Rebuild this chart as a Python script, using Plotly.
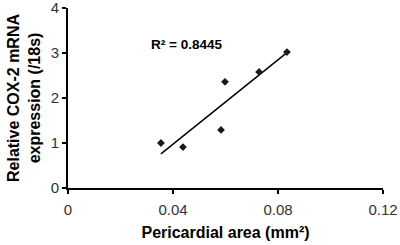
import numpy as np
import plotly.graph_objects as go

# Data
pericardial_area = [0.0354, 0.0438, 0.0583, 0.0598, 0.0728, 0.0834]
cox2_expression = [1.00, 0.91, 1.29, 2.36, 2.58, 3.02]
x_ticks = [0, 0.04, 0.08, 0.12]
x_tick_labels = ["0", "0.04", "0.08", "0.12"]
y_ticks = [0, 1, 2, 3, 4]
r2_label = "R² = 0.8445"

xs = np.array(pericardial_area)
ys = np.array(cox2_expression)
slope, intercept = np.polyfit(xs, ys, 1)
fit_x = [xs.min(), xs.max()]
fit_y = [slope * v + intercept for v in fit_x]

font = "Liberation Sans, Arial, sans-serif"

fig = go.Figure()
fig.add_trace(go.Scatter(x=fit_x, y=fit_y, mode="lines",
                         line=dict(color="black", width=1.5), showlegend=False))
fig.add_trace(go.Scatter(x=pericardial_area, y=cox2_expression, mode="markers",
                         marker=dict(symbol="diamond", size=6, color="#1a1a1a"),
                         showlegend=False))

fig.add_annotation(x=0.0310, y=3.2, text="<b>" + r2_label + "</b>", showarrow=False,
                   xanchor="left", yanchor="middle",
                   font=dict(family=font, size=13.5, color="black"))

fig.update_layout(
    width=400, height=245,
    margin=dict(l=68, r=17, t=8, b=57),
    paper_bgcolor="white", plot_bgcolor="white",
    font=dict(family=font, size=15, color="#333333"),
    xaxis=dict(range=[0, 0.12], tickvals=x_ticks, ticktext=x_tick_labels,
               showgrid=False, zeroline=False, showline=True, linecolor="black",
               linewidth=2, ticks="outside", ticklen=4, tickwidth=2, tickcolor="black",
               automargin=False, ticklabeloverflow="allow", ticklabelstandoff=3,
               tickfont=dict(family=font, size=15, color="#333333"),
               title=dict(text="<b>Pericardial area (mm²)</b>", standoff=10,
                          font=dict(family=font, size=16, color="black"))),
    yaxis=dict(range=[0, 4], tickvals=y_ticks,
               showgrid=False, zeroline=False, showline=True, linecolor="black",
               linewidth=2, ticks="outside", ticklen=4, tickwidth=2, tickcolor="black",
               automargin=False, ticklabeloverflow="allow",
               tickfont=dict(family=font, size=15, color="#333333"),
               title=dict(text="<b>Relative COX-2 mRNA<br>expression (/18s)</b>", standoff=6,
                          font=dict(family=font, size=16, color="black"))),
)

fig.write_html("out.html", config={"displayModeBar": False},
               post_script="document.body.style.margin='0';")
